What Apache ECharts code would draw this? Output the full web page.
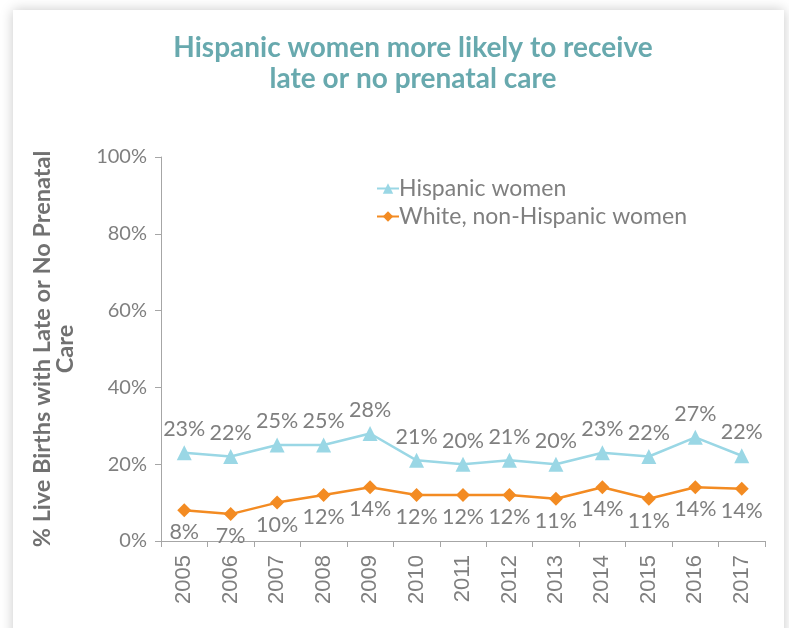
<!DOCTYPE html>
<html>
<head>
<meta charset="utf-8">
<script src="https://cdn.jsdelivr.net/npm/echarts@6/dist/echarts.min.js"></script>
<style>
html,body{margin:0;padding:0;width:789px;height:628px;overflow:hidden;background:#fff;}
#card{position:absolute;left:13px;top:10px;width:771px;height:640px;background:#fff;box-shadow:0 0 12px rgba(0,0,0,0.22);}
#chart{position:absolute;left:0;top:0;width:789px;height:628px;}
</style>
</head>
<body>
<div id="card"></div>
<div id="chart"></div>
<script>
var years = ['2005','2006','2007','2008','2009','2010','2011','2012','2013','2014','2015','2016','2017'];
var hispanic = [23, 22, 25, 25, 28, 21, 20, 21, 20, 23, 22, 27, 22.2];
var white = [8, 7, 10, 12, 14, 12, 12, 12, 11, 14, 11, 14, 13.6];
var yTicks = [0, 20, 40, 60, 80, 100];

var chart = echarts.init(document.getElementById('chart'), null, {renderer:'canvas'});
var gray = '#7f7f7f';
var font = 'Lato, "Open Sans", sans-serif';
chart.setOption({
  backgroundColor: 'transparent',
  animation: false,
  title: {
    text: 'Hispanic women more likely to receive\nlate or no prenatal care',
    left: 408, textAlign: 'center', top: 27,
    textStyle: {color:'#68a9ae', fontSize:28, fontWeight:'bold', fontFamily:font, lineHeight:31}
  },
  legend: {
    orient: 'vertical', left: 371, top: 172, itemGap: 5, itemWidth: 22, itemHeight: 13,
    textStyle: {color: gray, fontSize: 23, fontFamily: font, padding:[0,0,0,-5]},
    data: ['Hispanic women', 'White, non-Hispanic women']
  },
  grid: {left:161, right:24, top:157, bottom:87, containLabel:false},
  xAxis: {
    type:'category', data: years, boundaryGap: true,
    axisLine:{lineStyle:{color:'#a6a6a6'}},
    axisTick:{show:true, alignWithLabel:false, length:6, lineStyle:{color:'#a6a6a6'}},
    axisLabel:{rotate:90, color:gray, fontSize:22, fontFamily:'"Liberation Sans", Arial, sans-serif', margin:14}
  },
  yAxis: {
    type:'value', min:0, max:100, interval:20,
    name: '% Live Births with Late or No Prenatal\nCare',
    nameLocation:'middle', nameGap: 84, nameRotate: 90,
    nameTextStyle:{color:'#717171', fontSize:23.5, fontWeight:'bold', fontFamily:font, lineHeight:23},
    splitLine:{show:false},
    axisLine:{show:true, lineStyle:{color:'#a6a6a6'}},
    axisTick:{show:true, length:6, lineStyle:{color:'#a6a6a6'}},
    axisLabel:{color:gray, fontSize:20, fontFamily:font, margin:14,
      formatter:function(v){ return yTicks.indexOf(v) >= 0 ? v + '%' : ''; }}
  },
  series: [
    {
      name:'Hispanic women', type:'line', data: hispanic,
      symbol:'triangle', symbolSize:15,
      lineStyle:{color:'#9ad7e5', width:2.5},
      itemStyle:{color:'#9ad7e5'},
      label:{show:true, position:'top', distance:5, color:gray, fontSize:21.5, fontFamily:font,
        formatter:function(p){ return Math.round(p.value) + '%'; }}
    },
    {
      name:'White, non-Hispanic women', type:'line', data: white,
      symbol:'diamond', symbolSize:14,
      lineStyle:{color:'#f38b22', width:2.5},
      itemStyle:{color:'#f38b22'},
      label:{show:true, position:'bottom', distance:4, color:gray, fontSize:21.5, fontFamily:font,
        formatter:function(p){ return Math.round(p.value) + '%'; }}
    }
  ]
});
</script>
</body>
</html>
